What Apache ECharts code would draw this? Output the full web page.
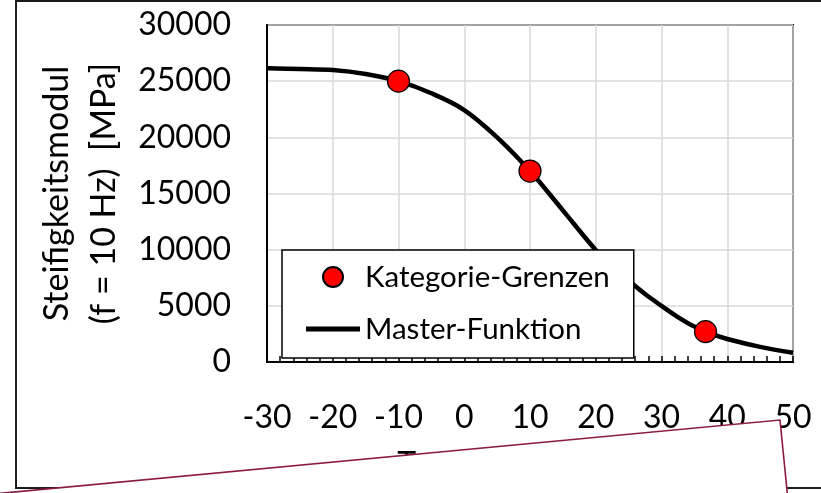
<!DOCTYPE html>
<html>
<head>
<meta charset="utf-8">
<script src="https://cdn.jsdelivr.net/npm/echarts@6/dist/echarts.min.js"></script>
<style>
  html, body { margin: 0; padding: 0; background: #ffffff; }
  #chart { width: 821px; height: 493px; }
</style>
</head>
<body>
<div id="chart"></div>
<script>
// Master curve of the stiffness modulus (f = 10 Hz) over temperature
var temperatures = [-30, -25, -20, -15, -10, -5, 0, 5, 10, 15, 20, 22.5, 25, 27.5, 30, 32.5, 35, 37.5, 40, 45, 50];
var masterModulus = [26150, 26080, 25990, 25640, 25000, 23920, 22430, 20000, 17000, 13500, 9970, 8550, 7250, 6050, 5000, 4000, 3150, 2520, 2050, 1350, 830];

// Category boundaries on the master curve
var boundaryTemps = [-10, 10, 36.7];
var boundaryModulus = [25000, 17000, 2700];

var xTicks = { min: -30, max: 50, step: 10 };
var yTicks = { min: 0, max: 30000, step: 5000 };

var FONT = 'Lato';

var chart = echarts.init(document.getElementById('chart'), null, { renderer: 'canvas' });

var curveData = temperatures.map(function (t, i) { return [t, masterModulus[i]]; });
var pointData = boundaryTemps.map(function (t, i) { return [t, boundaryModulus[i]]; });

chart.setOption({
  animation: false,
  backgroundColor: '#ffffff',
  grid: {
    left: 267, top: 25, right: 28, bottom: 131,
    show: true, borderColor: '#000000', borderWidth: 2,
    backgroundColor: 'transparent'
  },
  xAxis: {
    type: 'value',
    min: xTicks.min, max: xTicks.max, interval: xTicks.step,
    name: 'Temperatur  [°C]',
    nameLocation: 'middle',
    nameGap: 87,
    nameTextStyle: { fontFamily: FONT, fontSize: 32, color: '#000000', padding: [0, 34, 0, 0] },
    axisLine: { show: true, onZero: false, lineStyle: { color: '#000000', width: 2 } },
    axisTick: { show: true, inside: true, length: 6, lineStyle: { color: '#000000', width: 1.5 } },
    minorTick: { show: true, splitNumber: 5, length: 6, lineStyle: { color: '#000000', width: 1.5 } },
    axisLabel: { fontFamily: FONT, fontSize: 32, color: '#000000', margin: 40 },
    splitLine: { show: true, lineStyle: { color: '#d9d9d9', width: 1.5 } }
  },
  yAxis: {
    type: 'value',
    min: yTicks.min, max: yTicks.max, interval: yTicks.step,
    name: 'Steifigkeitsmodul\n(f = 10 Hz)  [MPa]',
    nameLocation: 'middle',
    nameRotate: 90,
    nameGap: 124,
    nameTextStyle: { fontFamily: FONT, fontSize: 34, color: '#000000', lineHeight: 47 },
    axisLine: { show: true, onZero: false, lineStyle: { color: '#000000', width: 2 } },
    axisTick: { show: false },
    axisLabel: {
      fontFamily: FONT, fontSize: 32, color: '#000000', margin: 36,
      formatter: function (v) { return String(v); }
    },
    splitLine: { show: true, lineStyle: { color: '#d9d9d9', width: 1.5 } }
  },
  legend: {
    orient: 'vertical',
    left: 282, top: 250,
    padding: [12, 24, 14, 24],
    itemGap: 22,
    itemWidth: 54,
    itemHeight: 20,
    backgroundColor: '#ffffff',
    borderColor: '#000000',
    borderWidth: 1.5,
    borderRadius: 0,
    textStyle: { fontFamily: FONT, fontSize: 29.5, color: '#000000' },
    data: [
      { name: 'Kategorie-Grenzen', icon: 'circle' },
      { name: 'Master-Funktion', icon: 'path://M0 0H54V5H0Z' }
    ]
  },
  series: [
    {
      name: 'Master-Funktion',
      type: 'line',
      data: curveData,
      smooth: 0.35,
      symbol: 'none',
      lineStyle: { color: '#000000', width: 4.5 },
      itemStyle: { color: '#000000' },
      z: 2
    },
    {
      name: 'Kategorie-Grenzen',
      type: 'scatter',
      data: pointData,
      symbol: 'circle',
      symbolSize: 22,
      itemStyle: { color: '#ff0000', borderColor: '#000000', borderWidth: 1.2, opacity: 1 },
      z: 3
    }
  ],
  graphic: [
    {
      // outer frame of the figure
      type: 'rect',
      z: 1,
      shape: { x: 16, y: 1, width: 900, height: 487 },
      style: { fill: 'none', stroke: '#1a1a1a', lineWidth: 2 }
    },
    {
      // tilted white sheet with a wine-red edge lying over the bottom
      type: 'polygon',
      z: 100,
      shape: { points: [[-20, 495.3], [780, 420], [790, 520], [-20, 520]] },
      style: { fill: '#ffffff', stroke: '#8c1a46', lineWidth: 1.6 }
    }
  ]
});
</script>
</body>
</html>
